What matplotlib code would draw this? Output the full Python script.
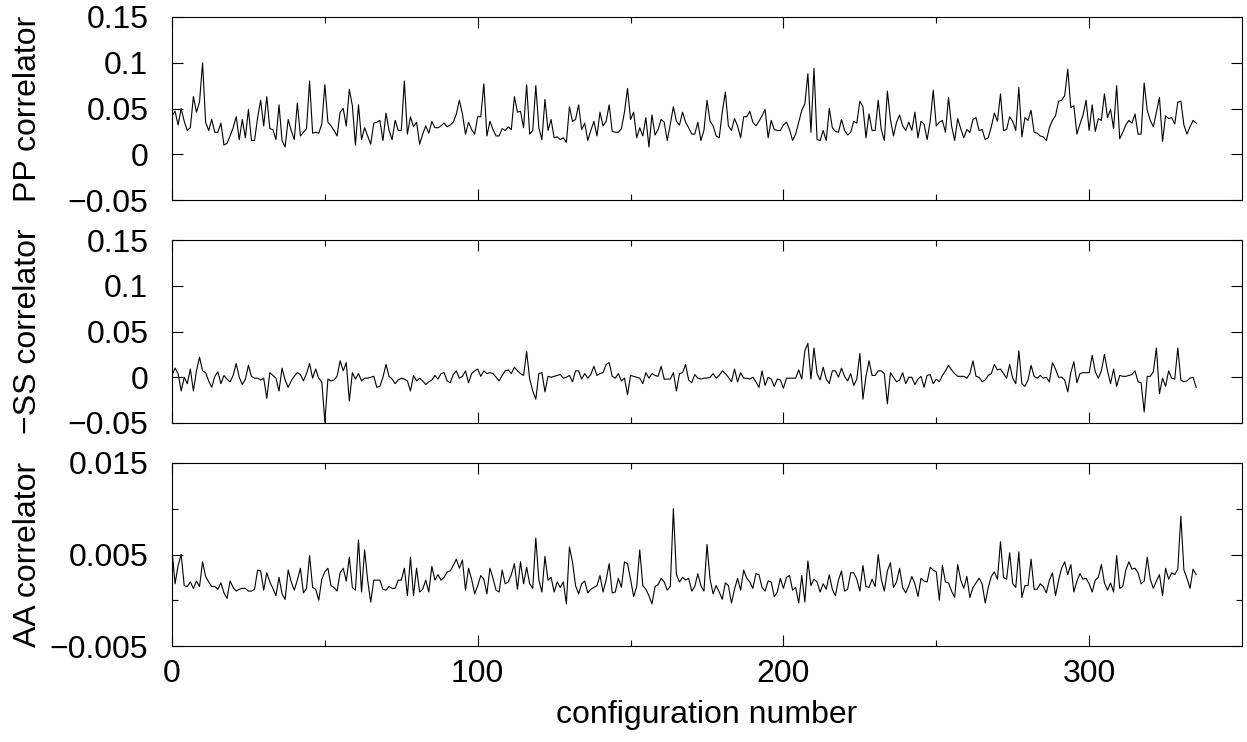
import numpy as np
import matplotlib
matplotlib.use("Agg")
import matplotlib.pyplot as plt
from matplotlib.ticker import FixedLocator, FuncFormatter

plt.rcParams['font.family'] = ['Liberation Sans', 'DejaVu Sans']

# PP correlator per configuration
pp = [
    # 0 - 95
    0.042, 0.047, 0.032, 0.050, 0.036, 0.026, 0.029, 0.063, 0.046, 0.057,
    0.100, 0.035, 0.026, 0.038, 0.024, 0.024, 0.034, 0.010, 0.012, 0.020,
    0.029, 0.041, 0.016, 0.038, 0.018, 0.049, 0.015, 0.015, 0.040, 0.059,
    0.031, 0.063, 0.028, 0.027, 0.016, 0.054, 0.015, 0.008, 0.038, 0.026,
    0.016, 0.056, 0.020, 0.024, 0.028, 0.080, 0.023, 0.024, 0.023, 0.033,
    0.076, 0.035, 0.031, 0.026, 0.020, 0.046, 0.050, 0.031, 0.071, 0.053,
    0.010, 0.054, 0.016, 0.029, 0.020, 0.011, 0.034, 0.035, 0.037, 0.015,
    0.045, 0.026, 0.016, 0.037, 0.026, 0.026, 0.080, 0.022, 0.041, 0.030,
    0.035, 0.011, 0.022, 0.031, 0.023, 0.036, 0.029, 0.029, 0.031, 0.034,
    0.030, 0.032, 0.035, 0.044, 0.059, 0.044,
    # 96 - 192
    0.022, 0.035, 0.027, 0.022, 0.041, 0.041, 0.077, 0.020, 0.036, 0.027,
    0.020, 0.020, 0.028, 0.026, 0.030, 0.027, 0.063, 0.046, 0.047, 0.029,
    0.076, 0.022, 0.026, 0.075, 0.029, 0.016, 0.060, 0.026, 0.038, 0.018,
    0.019, 0.016, 0.018, 0.013, 0.052, 0.036, 0.038, 0.054, 0.027, 0.034,
    0.015, 0.026, 0.036, 0.020, 0.046, 0.031, 0.036, 0.054, 0.025, 0.024,
    0.024, 0.028, 0.046, 0.072, 0.038, 0.046, 0.018, 0.029, 0.020, 0.040,
    0.008, 0.043, 0.021, 0.027, 0.038, 0.035, 0.015, 0.033, 0.052, 0.036,
    0.032, 0.046, 0.035, 0.029, 0.022, 0.022, 0.035, 0.015, 0.026, 0.059,
    0.036, 0.031, 0.020, 0.018, 0.046, 0.068, 0.031, 0.026, 0.039, 0.031,
    0.018, 0.041, 0.041, 0.047, 0.035, 0.031, 0.036,
    # 193 - 291
    0.042, 0.049, 0.018, 0.037, 0.027, 0.026, 0.026, 0.032, 0.035, 0.027,
    0.015, 0.022, 0.035, 0.048, 0.055, 0.088, 0.024, 0.094, 0.016, 0.015,
    0.026, 0.015, 0.050, 0.029, 0.025, 0.024, 0.038, 0.026, 0.021, 0.024,
    0.036, 0.034, 0.058, 0.052, 0.018, 0.044, 0.026, 0.026, 0.059, 0.027,
    0.015, 0.069, 0.038, 0.020, 0.035, 0.043, 0.031, 0.026, 0.035, 0.026,
    0.046, 0.018, 0.036, 0.033, 0.016, 0.036, 0.070, 0.031, 0.035, 0.037,
    0.024, 0.062, 0.031, 0.015, 0.039, 0.028, 0.018, 0.027, 0.024, 0.038,
    0.040, 0.026, 0.027, 0.016, 0.018, 0.030, 0.045, 0.036, 0.066, 0.026,
    0.027, 0.041, 0.036, 0.026, 0.073, 0.019, 0.040, 0.037, 0.048, 0.024,
    0.023, 0.020, 0.019, 0.015, 0.029, 0.037, 0.042, 0.058, 0.059,
    # 292 - 335
    0.064, 0.093, 0.051, 0.053, 0.022, 0.033, 0.043, 0.059, 0.026, 0.054,
    0.025, 0.039, 0.037, 0.066, 0.040, 0.049, 0.028, 0.075, 0.017, 0.024,
    0.032, 0.037, 0.034, 0.044, 0.022, 0.022, 0.078, 0.048, 0.037, 0.030,
    0.046, 0.062, 0.014, 0.042, 0.039, 0.040, 0.033, 0.057, 0.058, 0.032,
    0.022, 0.030, 0.037, 0.034,
]

# -SS correlator per configuration
ss = [
    # 0 - 95
    0.002, 0.010, 0.004, -0.015, 0.000, -0.007, 0.009, -0.015, 0.007, 0.022,
    0.007, 0.005, -0.004, -0.011, 0.001, 0.006, -0.007, 0.002, -0.002, -0.005,
    0.002, 0.015, 0.000, -0.008, -0.002, 0.013, 0.001, -0.001, -0.001, -0.003,
    -0.001, -0.023, 0.005, 0.002, -0.001, -0.015, 0.010, -0.003, -0.011, -0.004,
    0.001, 0.005, 0.003, -0.004, 0.004, 0.015, -0.001, 0.009, -0.001, -0.005,
    -0.049, -0.002, -0.004, -0.003, 0.001, 0.018, 0.007, 0.016, -0.026, 0.005,
    -0.002, 0.004, -0.004, -0.001, -0.001, 0.000, 0.001, -0.011, -0.010, 0.000,
    0.014, 0.001, -0.002, -0.007, -0.003, -0.001, -0.002, -0.004, -0.015, 0.002,
    -0.004, -0.001, -0.004, -0.008, -0.005, -0.003, 0.002, -0.002, 0.004, 0.005,
    -0.004, -0.006, 0.003, 0.007, -0.001, 0.001,
    # 96 - 191
    0.007, -0.006, 0.004, 0.007, 0.009, 0.001, 0.007, 0.004, 0.005, 0.004,
    0.000, -0.004, 0.002, 0.007, 0.008, 0.004, 0.011, 0.007, 0.004, 0.002,
    0.028, -0.002, -0.015, -0.024, 0.004, 0.005, -0.016, 0.001, 0.000, 0.001,
    0.002, 0.003, -0.001, 0.000, 0.002, -0.005, 0.007, 0.007, -0.002, 0.004,
    -0.001, 0.003, 0.012, 0.002, 0.004, 0.005, 0.014, 0.016, 0.001, -0.001,
    0.004, -0.004, -0.001, -0.019, 0.002, 0.001, 0.000, -0.001, -0.007, 0.005,
    -0.001, 0.004, 0.002, 0.001, 0.012, -0.002, -0.002, -0.002, 0.005, -0.015,
    0.004, 0.005, 0.014, -0.003, -0.006, 0.003, -0.001, -0.002, -0.001, -0.001,
    0.000, 0.004, -0.001, 0.002, 0.007, 0.004, 0.000, -0.005, 0.009, -0.005,
    0.005, -0.001, -0.001, -0.002, 0.000, -0.005,
    # 192 - 291
    -0.011, 0.007, -0.009, 0.000, -0.002, -0.010, -0.002, -0.003, -0.012, -0.001,
    -0.001, -0.001, -0.001, 0.008, -0.002, 0.029, 0.037, -0.002, 0.032, 0.004,
    -0.003, 0.011, -0.002, -0.007, 0.007, 0.007, 0.000, 0.010, 0.001, -0.004,
    0.004, -0.009, -0.002, 0.026, -0.024, 0.001, 0.018, 0.002, 0.002, 0.007,
    0.007, 0.004, -0.029, 0.005, 0.000, -0.005, -0.003, 0.005, -0.007, 0.000,
    0.000, -0.008, -0.002, 0.001, -0.011, 0.002, 0.003, -0.007, -0.002, -0.005,
    0.002, 0.007, 0.013, 0.008, 0.004, 0.001, 0.001, 0.001, -0.001, 0.004,
    0.018, 0.001, 0.000, -0.005, -0.003, 0.002, 0.004, 0.014, 0.008, 0.009,
    0.004, -0.001, 0.014, -0.001, -0.007, 0.029, -0.007, -0.010, -0.003, 0.013,
    0.001, -0.001, 0.002, -0.001, 0.000, -0.005, 0.016, 0.009, 0.000, 0.000,
    # 292 - 335
    -0.003, -0.016, 0.005, 0.017, -0.006, 0.004, 0.005, 0.005, 0.005, 0.024,
    0.006, -0.001, 0.007, 0.025, 0.007, -0.007, 0.009, -0.010, 0.002, 0.001,
    0.001, 0.002, 0.003, 0.007, -0.005, -0.006, -0.038, 0.001, 0.001, 0.006,
    0.032, -0.018, -0.001, -0.010, 0.007, -0.001, -0.002, 0.032, -0.003, -0.005,
    -0.004, -0.001, 0.000, -0.011,
]

# AA correlator per configuration
aa = [
    # 0 - 95
    0.0055, 0.0018, 0.0038, 0.0050, 0.0016, 0.0015, 0.0020, 0.0013, 0.0021, 0.0015,
    0.0042, 0.0026, 0.0020, 0.0015, 0.0015, 0.0012, 0.0019, 0.0008, 0.0002, 0.0021,
    0.0014, 0.0010, 0.0012, 0.0013, 0.0013, 0.0010, 0.0010, 0.0012, 0.0033, 0.0032,
    0.0011, 0.0030, 0.0020, 0.0013, 0.0005, 0.0025, 0.0007, 0.0001, 0.0033, 0.0020,
    0.0011, 0.0022, 0.0035, 0.0008, 0.0013, 0.0049, 0.0014, 0.0012, 0.0000, 0.0023,
    0.0031, 0.0035, 0.0016, 0.0014, 0.0010, 0.0030, 0.0035, 0.0021, 0.0047, 0.0014,
    0.0011, 0.0066, 0.0009, 0.0055, 0.0022, -0.0002, 0.0022, 0.0022, 0.0022, 0.0012,
    0.0011, 0.0015, 0.0013, 0.0013, 0.0022, 0.0022, 0.0035, 0.0005, 0.0047, 0.0005,
    0.0035, 0.0009, 0.0012, 0.0022, 0.0009, 0.0037, 0.0022, 0.0028, 0.0022, 0.0025,
    0.0031, 0.0032, 0.0038, 0.0045, 0.0035, 0.0044,
    # 96 - 192
    0.0011, 0.0035, 0.0023, 0.0007, 0.0016, 0.0027, 0.0023, 0.0007, 0.0035, 0.0024,
    0.0011, 0.0009, 0.0033, 0.0018, 0.0020, 0.0028, 0.0040, 0.0012, 0.0042, 0.0018,
    0.0036, 0.0018, 0.0013, 0.0068, 0.0022, 0.0009, 0.0048, 0.0022, 0.0025, 0.0009,
    0.0020, 0.0014, 0.0020, -0.0004, 0.0058, 0.0042, 0.0016, 0.0007, 0.0018, 0.0021,
    0.0008, 0.0012, 0.0014, 0.0016, 0.0027, 0.0009, 0.0022, 0.0040, 0.0008, 0.0009,
    0.0024, 0.0014, 0.0042, 0.0040, 0.0023, 0.0004, 0.0015, 0.0055, 0.0016, 0.0012,
    0.0005, -0.0004, 0.0015, 0.0017, 0.0024, 0.0020, 0.0011, 0.0015, 0.0100, 0.0028,
    0.0020, 0.0025, 0.0022, 0.0024, 0.0010, 0.0015, 0.0029, 0.0016, 0.0010, 0.0061,
    0.0023, 0.0007, 0.0016, 0.0009, 0.0001, 0.0019, 0.0016, -0.0003, 0.0012, 0.0024,
    0.0011, 0.0033, 0.0024, 0.0020, 0.0013, 0.0029, 0.0028,
    # 193 - 291
    0.0014, 0.0010, 0.0021, 0.0020, 0.0004, 0.0009, 0.0024, 0.0013, 0.0025, 0.0027,
    0.0011, 0.0014, -0.0003, 0.0027, -0.0002, 0.0043, 0.0016, 0.0023, 0.0020, 0.0009,
    0.0018, 0.0012, 0.0028, 0.0012, 0.0005, 0.0022, 0.0032, 0.0010, 0.0012, 0.0030,
    0.0030, 0.0023, 0.0010, 0.0038, 0.0015, 0.0014, 0.0023, 0.0015, 0.0050, 0.0023,
    0.0010, 0.0032, 0.0041, 0.0014, 0.0020, 0.0035, 0.0014, 0.0008, 0.0016, 0.0026,
    0.0018, 0.0004, 0.0024, 0.0021, 0.0020, 0.0036, 0.0033, 0.0031, 0.0000, 0.0038,
    0.0020, 0.0019, 0.0010, 0.0003, 0.0039, 0.0022, 0.0013, 0.0026, 0.0003, 0.0014,
    0.0019, 0.0024, 0.0018, -0.0003, 0.0014, 0.0026, 0.0031, 0.0023, 0.0064, 0.0025,
    0.0023, 0.0052, 0.0018, 0.0014, 0.0053, 0.0003, 0.0016, 0.0016, 0.0045, 0.0012,
    0.0012, 0.0018, 0.0015, 0.0008, 0.0022, 0.0030, 0.0005, 0.0022, 0.0035,
    # 292 - 335
    0.0042, 0.0028, 0.0039, 0.0009, 0.0021, 0.0029, 0.0023, 0.0024, 0.0018, 0.0009,
    0.0022, 0.0025, 0.0039, 0.0019, 0.0011, 0.0019, 0.0009, 0.0049, 0.0013, 0.0015,
    0.0033, 0.0042, 0.0034, 0.0035, 0.0030, 0.0018, 0.0021, 0.0047, 0.0023, 0.0013,
    0.0021, 0.0028, 0.0005, 0.0035, 0.0023, 0.0030, 0.0028, 0.0034, 0.0092, 0.0033,
    0.0024, 0.0013, 0.0034, 0.0028,
]

panel_labels = ["PP correlator", "\u2212SS correlator", "AA correlator"]
x_ticks = [0, 100, 200, 300]
x_minor = [50, 150, 250]

W, H = 1247, 742
fig = plt.figure(figsize=(W / 100, H / 100), dpi=100)

# panel boxes in pixels: (top, bottom)
boxes = [(17, 200), (240, 423), (463, 646)]
left_px, right_px = 172, 1242
FS = 23


def fmt(v, pos):
    s = "%g" % round(v, 6)
    return s.replace("-", "\u2212")


axes = []
for k, (top, bot) in enumerate(boxes):
    ax = fig.add_axes([left_px / W, 1 - bot / H,
                       (right_px - left_px) / W, (bot - top) / H])
    axes.append(ax)

series = [pp, ss, aa]
for ax, vals, lab, (top, bot) in zip(axes, series, panel_labels, boxes):
    x = np.arange(len(vals))
    ax.plot(x, vals, color="black", lw=0.8)
    ax.set_xlim(0, 350)
    ax.xaxis.set_major_locator(FixedLocator(x_ticks))
    ax.xaxis.set_minor_locator(FixedLocator(x_minor))
    ax.tick_params(which="both", direction="in", top=True, right=True,
                   width=0.8, labelsize=FS, pad=17, color="black")
    ax.tick_params(which="major", length=8)
    ax.tick_params(which="minor", length=4)
    ax.tick_params(axis="x", pad=9)
    for sp in ax.spines.values():
        sp.set_linewidth(0.8)
    ax.yaxis.set_major_formatter(FuncFormatter(fmt))
    fig.text(28 / W, 1 - (top + bot) / 2 / H, lab, rotation=90,
             ha="center", va="center", fontsize=FS)

for ax in axes[:2]:
    ax.set_ylim(-0.05, 0.15)
    ax.yaxis.set_major_locator(FixedLocator([-0.05, 0, 0.05, 0.1, 0.15]))
    ax.tick_params(axis="x", labelbottom=False)

axes[2].set_ylim(-0.005, 0.015)
axes[2].yaxis.set_major_locator(FixedLocator([-0.005, 0.005, 0.015]))
axes[2].yaxis.set_minor_locator(FixedLocator([0.0, 0.01]))
axes[2].set_xlabel("configuration number", fontsize=FS, labelpad=8)

fig.savefig("out.png", dpi=100)
